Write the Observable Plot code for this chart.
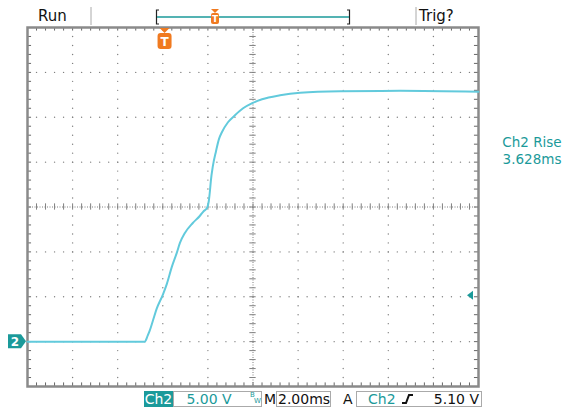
<!DOCTYPE html>
<html><head><meta charset="utf-8">
<script src="https://cdn.jsdelivr.net/npm/d3@7"></script>
<script src="https://cdn.jsdelivr.net/npm/@observablehq/plot@0.6"></script>
<style>
html,body{margin:0;padding:0;background:#fff;}
#wrap{position:relative;width:564px;height:407px;overflow:hidden;}
#wrap svg{display:block;}
</style></head><body><div id="wrap"></div>
<script>
// Ch2 trace: time (ms, relative to screen centre) and voltage (V)
const timeMs = [-10.00, -4.80, -4.67, -4.58, -4.44, -4.27, -4.00, -3.82, -3.60, -3.38, -3.24, -3.02, -2.67, -2.36, -2.18, -2.04, -1.96, -1.91, -1.87, -1.78, -1.64, -1.51, -1.38, -1.11, -0.80, -0.44, -0.04, 0.40, 1.20, 2.09, 3.87, 6.53, 10.00];
const ch2Volts = [0.00, 0.00, 0.67, 1.22, 2.33, 3.67, 5.22, 6.44, 8.33, 9.89, 11.0, 12.11, 13.22, 14.0, 14.56, 14.89, 15.67, 16.78, 17.89, 19.56, 21.22, 22.56, 23.33, 24.44, 25.22, 26.0, 26.56, 27.0, 27.44, 27.72, 27.89, 27.94, 27.83];

const triggerTimeMs = -3.9;
const triggerLevelV = 5.10;
const groundV = 0;
const timeDomain = [-10, 10];   // 10 divisions x 2.00 ms
const voltDomain = [-5, 35];    // 8 divisions x 5.00 V

const topLabels = ["Run", "Trig?"];
const measureLabels = ["Ch2 Rise", "3.628ms"];
const scaleLabels = {ch: "Ch2", volts: "5.00 V", bw: ["B", "W"], m: "M", time: "2.00ms", a: "A", trigCh: "Ch2", trigLevel: "5.10 V"};
const channelMarker = "2";

const trace = timeMs.map((t, i) => ({t, v: ch2Volts[i]}));

// graticule positions
const xMinor = d3.range(0, 51).map(i => -10 + i * 0.4);
const yMinor = d3.range(0, 41).map(i => -5 + i);
const xMajor = [-8, -6, -4, -2, 2, 4, 6, 8];
const yMajor = [0, 5, 10, 20, 25, 30];
const gridDots = [];
for (const y of yMajor) for (const x of xMinor) if (x > -9.9 && x < 9.9) gridDots.push({x, y});
for (const x of xMajor) for (const y of yMinor) if (y > -4.9 && y < 34.9) gridDots.push({x, y});

const gc = "#808080";
const chart = Plot.plot({
  width: 564, height: 407,
  marginLeft: 27, marginRight: 86, marginTop: 27, marginBottom: 21,
  style: {background: "#fff"},
  x: {domain: timeDomain, axis: null},
  y: {domain: voltDomain, axis: null},
  marks: [
    Plot.dot(gridDots, {x: "x", y: "y", r: 0.7, fill: gc, stroke: null}),
    Plot.ruleY([15], {stroke: gc, strokeDasharray: "1,1.5"}),
    Plot.ruleX([0], {stroke: gc, strokeDasharray: "1,1.5"}),
    Plot.ruleX(xMinor, {x: d => d, y1: 14.65, y2: 15.35, stroke: gc}),
    Plot.ruleY(yMinor, {y: d => d, x1: -0.14, x2: 0.14, stroke: gc}),
    // edge ticks
    Plot.ruleX(xMinor, {x: d => d, y1: 35, y2: 34.6, stroke: "#666"}),
    Plot.ruleX(xMinor, {x: d => d, y1: -5, y2: -4.6, stroke: "#666"}),
    Plot.ruleY(yMinor, {y: d => d, x1: -10, x2: -9.82, stroke: "#666"}),
    Plot.ruleY(yMinor, {y: d => d, x1: 10, x2: 9.82, stroke: "#666"}),
    Plot.frame({stroke: "#8a8a8a", strokeWidth: 2.5}),
    Plot.line(trace, {x: "t", y: "v", stroke: "#62cadc", strokeWidth: 2, curve: "monotone-x"})
  ]
});
document.getElementById("wrap").appendChild(chart);

const sx = chart.scale("x"), sy = chart.scale("y");
const svg = d3.select(chart);
const teal = "#1b9a9a", orange = "#f07a20";
const F = '"DejaVu Sans", sans-serif';
const txt = (x, y, s, o = {}) => svg.append("text").attr("x", x).attr("y", y).text(s)
  .attr("font-family", F).attr("font-size", o.size || 14).attr("fill", o.fill || "#111")
  .attr("text-anchor", o.anchor || "start").attr("font-weight", o.weight || "normal");

// top status bar
txt(38, 21, topLabels[0], {size: 15});
txt(419, 21, topLabels[1], {size: 15});
svg.append("path").attr("d", "M91,7V25M416,7V25").attr("stroke", "#aaa").attr("fill", "none");
svg.append("path").attr("d", "M159,10H156.5V24H159M347,10H349.5V24H347").attr("stroke", "#222").attr("stroke-width", 1.2).attr("fill", "none");
svg.append("path").attr("d", "M157,17H349").attr("stroke", teal).attr("stroke-width", 1.5);
svg.append("path").attr("d", "M211,9L219,9L215,13Z").attr("fill", orange);
svg.append("rect").attr("x", 211).attr("y", 13).attr("width", 8).attr("height", 11).attr("rx", 2).attr("fill", orange);
txt(215, 22, "T", {size: 9, fill: "#fff", anchor: "middle", weight: "bold"});

// trigger position marker on graticule
const tx = sx.apply(triggerTimeMs);
svg.append("path").attr("d", `M${tx - 5},28L${tx + 5},28L${tx},33Z`).attr("fill", orange);
svg.append("rect").attr("x", tx - 7).attr("y", 33).attr("width", 14).attr("height", 16).attr("rx", 3).attr("fill", orange);
txt(tx, 46, "T", {size: 12, fill: "#fff", anchor: "middle", weight: "bold"});

// channel ground marker
const g0 = sy.apply(groundV);
svg.append("path").attr("d", `M8,${g0 - 7}H21L26,${g0}L21,${g0 + 7}H8Z`).attr("fill", teal);
txt(15, g0 + 4.5, channelMarker, {size: 12, fill: "#fff", anchor: "middle", weight: "bold"});

// trigger level arrow
const ya = sy.apply(triggerLevelV);
svg.append("path").attr("d", `M467,${ya}L473,${ya - 4.5}L473,${ya + 4.5}Z`).attr("fill", teal);

// measurement readout
txt(532, 147, measureLabels[0], {size: 13.5, fill: teal, anchor: "middle"});
txt(532, 164, measureLabels[1], {size: 13.5, fill: teal, anchor: "middle"});

// bottom readout
svg.append("rect").attr("x", 144).attr("y", 391).attr("width", 29).attr("height", 16).attr("fill", teal);
txt(158.5, 404, scaleLabels.ch, {fill: "#fff", anchor: "middle"});
svg.append("rect").attr("x", 173.5).attr("y", 391.5).attr("width", 88).attr("height", 15).attr("fill", "none").attr("stroke", "#aaa");
txt(209, 404, scaleLabels.volts, {fill: teal, anchor: "middle"});
txt(250, 397, scaleLabels.bw[0], {size: 7, fill: teal});
txt(254, 403, scaleLabels.bw[1], {size: 7, fill: teal});
txt(264, 404, scaleLabels.m);
svg.append("rect").attr("x", 276.5).attr("y", 391.5).attr("width", 54).attr("height", 15).attr("fill", "none").attr("stroke", "#aaa");
txt(278, 404, scaleLabels.time);
txt(343, 404, scaleLabels.a);
svg.append("rect").attr("x", 356.5).attr("y", 391.5).attr("width", 125).attr("height", 15).attr("fill", "none").attr("stroke", "#aaa");
txt(368, 404, scaleLabels.trigCh, {fill: teal});
svg.append("path").attr("d", "M402,403H406L409,395H413").attr("stroke", "#111").attr("stroke-width", 2).attr("fill", "none");
txt(479, 404, scaleLabels.trigLevel, {anchor: "end"});
</script></body></html>
